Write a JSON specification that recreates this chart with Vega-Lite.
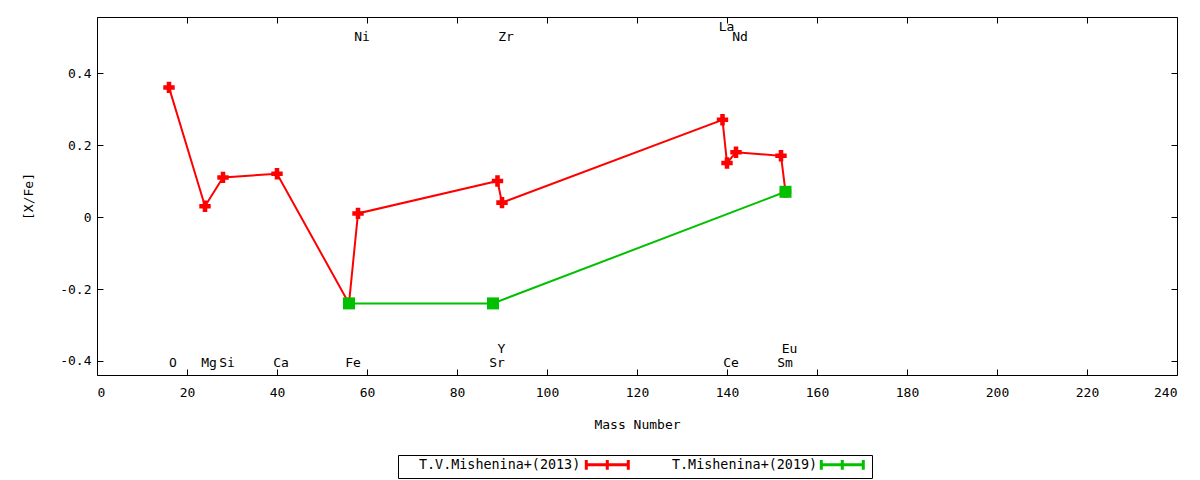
{
  "$schema": "https://vega.github.io/schema/vega-lite/v6.json",
  "autosize": "none",
  "width": 1080,
  "height": 358,
  "padding": {"left": 97, "top": 17, "right": 23, "bottom": 105},
  "background": "white",
  "config": {
    "font": "DejaVu Sans Mono",
    "view": {"stroke": "black", "strokeWidth": 1},
    "axis": {
      "domain": false,
      "grid": false,
      "tickColor": "black",
      "tickSize": -6,
      "labelFont": "DejaVu Sans Mono",
      "labelFontSize": 13,
      "labelColor": "black",
      "titleFont": "DejaVu Sans Mono",
      "titleFontSize": 13,
      "titleFontWeight": "normal",
      "titleColor": "black"
    }
  },
  "datasets": {
    "abund": [
      {"series": "T.V.Mishenina+(2013)", "element": "O", "mass": 16, "xfe": 0.36},
      {"series": "T.V.Mishenina+(2013)", "element": "Mg", "mass": 24, "xfe": 0.03},
      {"series": "T.V.Mishenina+(2013)", "element": "Si", "mass": 28, "xfe": 0.11},
      {"series": "T.V.Mishenina+(2013)", "element": "Ca", "mass": 40, "xfe": 0.12},
      {"series": "T.V.Mishenina+(2013)", "element": "Fe", "mass": 56, "xfe": -0.24},
      {"series": "T.V.Mishenina+(2013)", "element": "Ni", "mass": 58, "xfe": 0.01},
      {"series": "T.V.Mishenina+(2013)", "element": "Y", "mass": 89, "xfe": 0.10},
      {"series": "T.V.Mishenina+(2013)", "element": "Zr", "mass": 90, "xfe": 0.04},
      {"series": "T.V.Mishenina+(2013)", "element": "La", "mass": 139, "xfe": 0.27},
      {"series": "T.V.Mishenina+(2013)", "element": "Ce", "mass": 140, "xfe": 0.15},
      {"series": "T.V.Mishenina+(2013)", "element": "Nd", "mass": 142, "xfe": 0.18},
      {"series": "T.V.Mishenina+(2013)", "element": "Sm", "mass": 152, "xfe": 0.17},
      {"series": "T.V.Mishenina+(2013)", "element": "Eu", "mass": 153, "xfe": 0.07},
      {"series": "T.Mishenina+(2019)", "element": "Fe", "mass": 56, "xfe": -0.24},
      {"series": "T.Mishenina+(2019)", "element": "Sr", "mass": 88, "xfe": -0.24},
      {"series": "T.Mishenina+(2019)", "element": "Eu", "mass": 153, "xfe": 0.07}
    ],
    "labels": [
      {"element": "O", "mass": 16, "ypos": -0.405},
      {"element": "Mg", "mass": 24, "ypos": -0.405},
      {"element": "Si", "mass": 28, "ypos": -0.405},
      {"element": "Ca", "mass": 40, "ypos": -0.405},
      {"element": "Fe", "mass": 56, "ypos": -0.405},
      {"element": "Ni", "mass": 58, "ypos": 0.5},
      {"element": "Sr", "mass": 88, "ypos": -0.405},
      {"element": "Y", "mass": 89, "ypos": -0.367},
      {"element": "Zr", "mass": 90, "ypos": 0.5},
      {"element": "La", "mass": 139, "ypos": 0.528},
      {"element": "Ce", "mass": 140, "ypos": -0.405},
      {"element": "Nd", "mass": 142, "ypos": 0.5},
      {"element": "Sm", "mass": 152, "ypos": -0.405},
      {"element": "Eu", "mass": 153, "ypos": -0.367}
    ]
  },
  "resolve": {"axis": {"x": "independent", "y": "independent"}},
  "layer": [
    {
      "data": {"name": "abund"},
      "mark": {"type": "line", "strokeWidth": 2},
      "encoding": {
        "x": {
          "field": "mass", "type": "quantitative",
          "scale": {"domain": [0, 240], "nice": false},
          "axis": {"title": "Mass Number", "values": [0, 20, 40, 60, 80, 100, 120, 140, 160, 180, 200, 220, 240], "labelPadding": 17, "titlePadding": 19}
        },
        "y": {
          "field": "xfe", "type": "quantitative",
          "scale": {"domain": [-0.4389, 0.5556], "nice": false, "zero": false},
          "axis": {"title": "[X/Fe]", "values": [-0.4, -0.2, 0, 0.2, 0.4], "labelExpr": "datum.value + ''", "labelPadding": 12, "titlePadding": 24}
        },
        "color": {
          "field": "series", "type": "nominal",
          "scale": {"domain": ["T.V.Mishenina+(2013)", "T.Mishenina+(2019)"], "range": ["#ff0000", "#00c000"]},
          "legend": {
            "title": null,
            "orient": "none",
            "legendX": 301,
            "legendY": 438,
            "direction": "horizontal",
            "strokeColor": "black",
            "padding": 2,
            "symbolSize": 144,
            "symbolType": "M29.8,0H36.8M29.8,-0.8V0.8M36.8,-0.8V0.8M33.3,-0.8V0.8",
            "symbolStrokeWidth": 3,
            "symbolFillColor": "transparent",
            "labelOffset": 4,
            "labelLimit": 300,
            "labelFont": "DejaVu Sans Mono",
            "labelFontSize": 13.4,
            "labelColor": "black",
            "columnPadding": -3,
            "encode": {
              "labels": {
                "update": {
                  "dx": {"signal": "datum.value == 'T.Mishenina+(2019)' ? 18 : 0"}
                }
              }
            }
          }
        }
      }
    },
    {
      "data": {"name": "abund"},
      "transform": [{"filter": "datum.series == 'T.V.Mishenina+(2013)'"}],
      "mark": {"type": "point", "filled": true, "opacity": 1, "shape": "cross", "size": 130, "color": "#ff0000"},
      "encoding": {
        "x": {"field": "mass", "type": "quantitative", "axis": null},
        "y": {"field": "xfe", "type": "quantitative", "axis": null}
      }
    },
    {
      "data": {"name": "abund"},
      "transform": [{"filter": "datum.series == 'T.Mishenina+(2019)'"}],
      "mark": {"type": "point", "filled": true, "opacity": 1, "shape": "square", "size": 144, "color": "#00c000"},
      "encoding": {
        "x": {"field": "mass", "type": "quantitative", "axis": null},
        "y": {"field": "xfe", "type": "quantitative", "axis": null}
      }
    },
    {
      "data": {"name": "labels"},
      "mark": {"type": "text", "align": "center", "baseline": "middle", "dx": 4, "fontSize": 13, "font": "DejaVu Sans Mono", "color": "black"},
      "encoding": {
        "x": {"field": "mass", "type": "quantitative", "axis": {"orient": "top", "labels": false, "title": null, "values": [0, 20, 40, 60, 80, 100, 120, 140, 160, 180, 200, 220, 240]}},
        "y": {"field": "ypos", "type": "quantitative", "axis": {"orient": "right", "labels": false, "title": null, "values": [-0.4, -0.2, 0, 0.2, 0.4]}},
        "text": {"field": "element"}
      }
    }
  ]
}
